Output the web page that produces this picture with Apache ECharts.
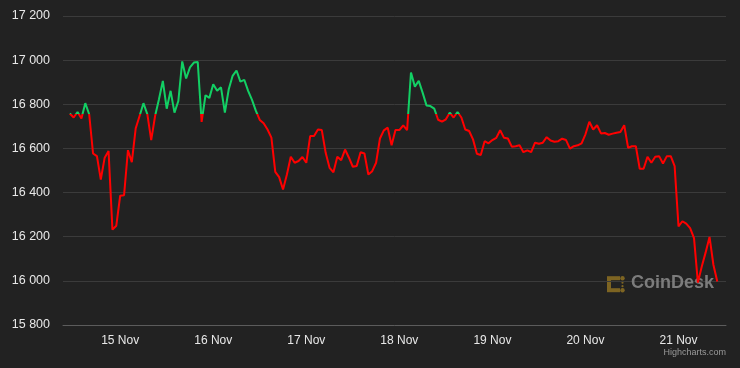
<!DOCTYPE html>
<html>
<head>
<meta charset="utf-8">
<script src="https://cdn.jsdelivr.net/npm/echarts@6/dist/echarts.min.js"></script>
<style>
  html, body { margin: 0; padding: 0; background: #222222; }
  #chart { width: 740px; height: 368px; }
</style>
</head>
<body>
<div id="chart"></div>
<script>
// ---- data ----
const startTime = [2022, 10, 14, 11]; // first hourly sample: 14 Nov, 11:00
const prices = [
  16758, 16740, 16765, 16736, 16805, 16755, 16577, 16565, 16459, 16558,
  16588, 16232, 16250, 16386, 16388, 16592, 16538, 16691, 16747, 16805,
  16755, 16638, 16747, 16823, 16906, 16780, 16861, 16762, 16815, 16994,
  16917, 16967, 16989, 16992, 16720, 16841, 16829, 16891, 16861, 16877,
  16762, 16868, 16929, 16953, 16903, 16911, 16861, 16820, 16770, 16729,
  16714, 16686, 16649, 16494, 16470, 16414, 16482, 16562, 16535, 16543,
  16561, 16535, 16656, 16656, 16686, 16683, 16580, 16512, 16492, 16562,
  16547, 16595, 16558, 16517, 16520, 16583, 16577, 16482, 16497, 16535,
  16645, 16682, 16694, 16614, 16683, 16683, 16705, 16683, 16944, 16880,
  16906, 16853, 16795, 16792, 16780, 16730, 16721, 16732, 16762, 16740,
  16765, 16740, 16686, 16679, 16641, 16576, 16570, 16633, 16623, 16638,
  16648, 16682, 16648, 16645, 16608, 16610, 16614, 16583, 16591, 16583,
  16626, 16621, 16626, 16651, 16636, 16630, 16633, 16644, 16638, 16599,
  16610, 16614, 16623, 16664, 16721, 16686, 16705, 16668, 16670, 16662,
  16667, 16671, 16674, 16705, 16603, 16610, 16610, 16508, 16508, 16562,
  16535, 16562, 16565, 16532, 16565, 16565, 16520, 16247, 16270, 16259,
  16239, 16194, 15992, 16065, 16129, 16199, 16073, 15997
];
const threshold = [16755];
const yTicks = [15800, 16000, 16200, 16400, 16600, 16800, 17000, 17200];
const monthNames = ['Jan','Feb','Mar','Apr','May','Jun','Jul','Aug','Sep','Oct','Nov','Dec'];
const upColor = '#12d064';
const downColor = '#ff0000';

// ---- build ----
const HOUR = 3600 * 1000;
const t0 = new Date(startTime[0], startTime[1], startTime[2], startTime[3]).getTime();
const seriesData = prices.map((v, i) => [t0 + i * HOUR, v]);
const xMin = new Date(2022, 10, 14, 9, 15).getTime();
const xMax = new Date(2022, 10, 21, 12, 15).getTime();
const H = 368;

const FONT = '"Liberation Sans", Arial, Helvetica, sans-serif';
const fmtThousands = v => String(v).replace(/\B(?=(\d{3})+(?!\d))/g, ' ');

const chart = echarts.init(document.getElementById('chart'), null, { renderer: 'canvas' });
chart.setOption({
  backgroundColor: '#222222',
  animation: false,
  grid: { left: 63, right: 14, top: 16, bottom: 43, containLabel: false },
  xAxis: {
    type: 'time',
    min: xMin,
    max: xMax,
    minInterval: 24 * HOUR,
    maxInterval: 24 * HOUR,
    axisLine: { show: true, lineStyle: { color: '#5c5c5c', width: 1 } },
    axisTick: { show: false },
    splitLine: { show: false },
    axisLabel: {
      color: '#e8e8e8',
      fontFamily: FONT,
      fontSize: 12,
      margin: 10,
      hideOverlap: false,
      formatter: v => { const d = new Date(v); return d.getDate() + ' ' + monthNames[d.getMonth()]; }
    }
  },
  yAxis: {
    type: 'value',
    min: yTicks[0],
    max: yTicks[yTicks.length - 1],
    interval: 200,
    axisLine: { show: false },
    axisTick: { show: false },
    splitLine: { show: true, lineStyle: { color: '#3b3b3b', width: 1 } },
    axisLabel: {
      color: '#e8e8e8',
      fontFamily: FONT,
      fontSize: 12.5,
      margin: 13,
      formatter: v => fmtThousands(v)
    }
  },
  series: [{
    type: 'line',
    data: seriesData,
    showSymbol: false,
    symbol: 'none',
    lineStyle: { width: 2, color: downColor },
    z: 5
  }],
  graphic: [
    // CoinDesk watermark logo (decorative)
    { type: 'group', left: 607, top: 276, z: 1, silent: true, children: [
      { type: 'rect', shape: { x: 0, y: 1, width: 4, height: 14 }, style: { fill: '#7d6422' } },
      { type: 'rect', shape: { x: 0, y: 0, width: 13, height: 4 }, style: { fill: '#7d6422' } },
      { type: 'rect', shape: { x: 0, y: 12, width: 13, height: 4 }, style: { fill: '#7d6422' } },
      { type: 'circle', shape: { cx: 15.5, cy: 2, r: 2.2 }, style: { fill: '#7d6422' } },
      { type: 'circle', shape: { cx: 15.5, cy: 14, r: 2.2 }, style: { fill: '#7d6422' } },
      { type: 'circle', shape: { cx: 15.5, cy: 6.5, r: 1.1 }, style: { fill: '#7d6422' } },
      { type: 'circle', shape: { cx: 15.5, cy: 10, r: 1.1 }, style: { fill: '#7d6422' } }
    ]},
    { type: 'text', left: 631, top: 274, z: 1, silent: true,
      style: { text: 'CoinDesk', fill: '#7c7c7c', font: 'bold 18px ' + FONT } },
    // credits
    { type: 'text', right: 14, top: 348, silent: true,
      style: { text: 'Highcharts.com', fill: '#9a9a9a', font: '9px ' + FONT } }
  ]
});

// colour the line by the threshold (green above, red below) using the axis scale
const yT = chart.convertToPixel({ yAxisIndex: 0 }, threshold[0]);
const off = Math.min(1, Math.max(0, yT / H));
chart.setOption({
  series: [{
    lineStyle: {
      color: new echarts.graphic.LinearGradient(0, 0, 0, H, [
        { offset: 0, color: upColor },
        { offset: off, color: upColor },
        { offset: off, color: downColor },
        { offset: 1, color: downColor }
      ], true)
    }
  }]
});
</script>
</body>
</html>
